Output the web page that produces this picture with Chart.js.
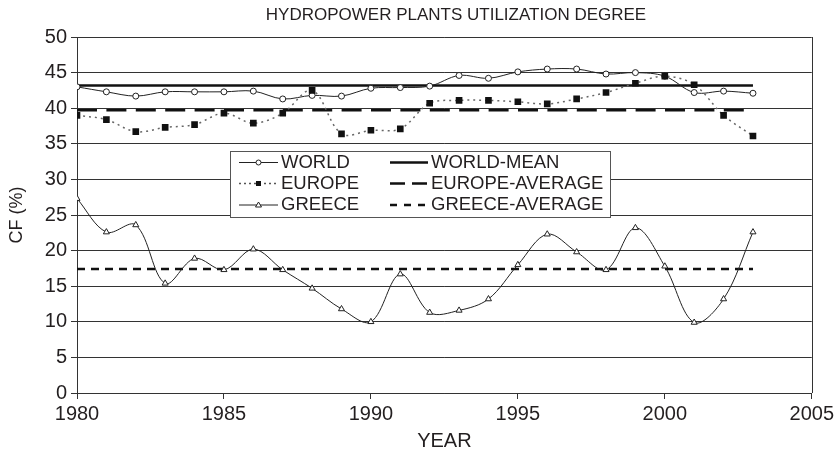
<!DOCTYPE html>
<html>
<head>
<meta charset="utf-8">
<script src="https://cdn.jsdelivr.net/npm/chart.js@4.4.1/dist/chart.umd.min.js"></script>
<style>
html, body { margin: 0; padding: 0; background: #fff; }
</style>
</head>
<body>
<canvas id="cfChart" width="837" height="451"></canvas>
<script>
// data
const years = [1980, 1981, 1982, 1983, 1984, 1985, 1986, 1987, 1988, 1989, 1990, 1991,
               1992, 1993, 1994, 1995, 1996, 1997, 1998, 1999, 2000, 2001, 2002, 2003];
const world = [43.0, 42.3, 41.7, 42.3, 42.3, 42.3, 42.4, 41.3, 41.8, 41.7, 42.8, 42.9,
               43.1, 44.6, 44.2, 45.1, 45.5, 45.5, 44.8, 45.0, 44.5, 42.2, 42.4, 42.1];
const europe = [39.0, 38.4, 36.7, 37.3, 37.7, 39.3, 37.9, 39.3, 42.5, 36.4, 36.9, 37.1,
                40.7, 41.1, 41.1, 40.9, 40.6, 41.3, 42.2, 43.5, 44.5, 43.3, 39.0, 36.1];
const greece = [27.3, 22.6, 23.6, 15.4, 18.9, 17.3, 20.2, 17.3, 14.7, 11.8, 10.0, 16.7,
                11.3, 11.6, 13.2, 18.0, 22.3, 19.8, 17.3, 23.2, 17.8, 9.9, 13.2, 22.6];
const worldMean = 43.2;
const europeAverage = 39.7;
const greeceAverage = 17.4;
const xTicks = [1980, 1985, 1990, 1995, 2000, 2005];
const yTicks = [0, 5, 10, 15, 20, 25, 30, 35, 40, 45, 50];

const FONT = "'Liberation Sans', Arial, Helvetica, sans-serif";
const INK = '#231f20';

function pts(values) {
    return values.map((v, i) => ({ x: years[i], y: v }));
}
function flat(value) {
    return [{ x: years[0], y: value }, { x: years[years.length - 1], y: value }];
}

// titles, right frame line and the boxed legend
const extras = {
    id: 'extras',
    afterDraw(chart) {
        const ctx = chart.ctx;
        const area = chart.chartArea;
        ctx.save();

        ctx.strokeStyle = '#333';
        ctx.lineWidth = 1;
        ctx.beginPath();
        ctx.moveTo(Math.round(area.right) + 0.5, area.top);
        ctx.lineTo(Math.round(area.right) + 0.5, area.bottom);
        ctx.stroke();

        ctx.fillStyle = INK;
        ctx.font = '17px ' + FONT;
        ctx.textAlign = 'center';
        ctx.textBaseline = 'middle';
        ctx.fillText('HYDROPOWER PLANTS UTILIZATION DEGREE', 456, 15);

        // legend box
        const bx = 230, by = 151, bw = 380, bh = 66;
        ctx.fillStyle = '#fff';
        ctx.fillRect(bx, by, bw, bh);
        ctx.strokeStyle = '#555';
        ctx.strokeRect(bx + 0.5, by + 0.5, bw, bh);

        const rows = [162.5, 183.5, 205];
        const c1 = [239, 278, 281];
        const c2 = [390, 428, 431];
        ctx.font = '18.5px ' + FONT;
        ctx.textAlign = 'left';
        ctx.fillStyle = INK;
        ctx.fillText('WORLD', c1[2], rows[0]);
        ctx.fillText('EUROPE', c1[2], rows[1]);
        ctx.fillText('GREECE', c1[2], rows[2]);
        ctx.fillText('WORLD-MEAN', c2[2], rows[0]);
        ctx.fillText('EUROPE-AVERAGE', c2[2], rows[1]);
        ctx.fillText('GREECE-AVERAGE', c2[2], rows[2]);

        function sample(c, y, width, dash, color) {
            ctx.beginPath();
            ctx.setLineDash(dash);
            ctx.lineWidth = width;
            ctx.strokeStyle = color;
            ctx.moveTo(c[0], y);
            ctx.lineTo(c[1], y);
            ctx.stroke();
            ctx.setLineDash([]);
        }
        const mid = (c1[0] + c1[1]) / 2;
        sample(c1, rows[0], 1, [], '#222');
        ctx.beginPath();
        ctx.fillStyle = '#fff';
        ctx.lineWidth = 1;
        ctx.strokeStyle = '#222';
        ctx.arc(mid, rows[0], 2.5, 0, Math.PI * 2);
        ctx.fill();
        ctx.stroke();

        sample(c1, rows[1], 1.3, [2, 3], '#555');
        ctx.fillStyle = '#111';
        ctx.fillRect(mid - 2.5, rows[1] - 2.5, 5, 5);

        sample(c1, rows[2], 1, [], '#222');
        ctx.beginPath();
        ctx.fillStyle = '#fff';
        ctx.moveTo(mid, rows[2] - 3);
        ctx.lineTo(mid + 3, rows[2] + 2);
        ctx.lineTo(mid - 3, rows[2] + 2);
        ctx.closePath();
        ctx.fill();
        ctx.stroke();

        sample(c2, rows[0], 2.5, [], '#111');
        sample(c2, rows[1], 2.5, [15, 7], '#111');
        sample(c2, rows[2], 2.5, [7, 7], '#111');

        ctx.restore();
    }
};

new Chart(document.getElementById('cfChart'), {
    type: 'line',
    data: {
        datasets: [
            {
                label: 'WORLD',
                data: pts(world),
                borderColor: '#222',
                borderWidth: 1,
                tension: 0.35,
                pointStyle: 'circle',
                pointRadius: 3,
                pointBackgroundColor: '#fff',
                pointBorderColor: '#222',
                pointBorderWidth: 1,
                order: 3
            },
            {
                label: 'EUROPE',
                data: pts(europe),
                borderColor: '#666',
                borderWidth: 1.5,
                borderDash: [2, 4],
                tension: 0.35,
                pointStyle: 'rect',
                pointRadius: 4.7,
                pointBackgroundColor: '#111',
                pointBorderColor: '#111',
                pointBorderWidth: 0,
                order: 2
            },
            {
                label: 'GREECE',
                data: pts(greece),
                borderColor: '#222',
                borderWidth: 1,
                tension: 0.35,
                pointStyle: 'triangle',
                pointRadius: 3.5,
                pointBackgroundColor: '#fff',
                pointBorderColor: '#222',
                pointBorderWidth: 1,
                order: 1
            },
            {
                label: 'WORLD-MEAN',
                data: flat(worldMean),
                borderColor: '#111',
                borderWidth: 2.5,
                pointRadius: 0,
                order: 4
            },
            {
                label: 'EUROPE-AVERAGE',
                data: flat(europeAverage),
                borderColor: '#111',
                borderWidth: 2.5,
                borderDash: [20, 9.4],
                pointRadius: 0,
                order: 5
            },
            {
                label: 'GREECE-AVERAGE',
                data: flat(greeceAverage),
                borderColor: '#111',
                borderWidth: 2.5,
                borderDash: [8, 6],
                pointRadius: 0,
                order: 6
            }
        ]
    },
    options: {
        responsive: false,
        animation: false,
        devicePixelRatio: 1,
        layout: { padding: { top: 37, right: 25, bottom: 0, left: 0 } },
        plugins: {
            legend: { display: false },
            tooltip: { enabled: false }
        },
        scales: {
            x: {
                type: 'linear',
                min: xTicks[0],
                max: xTicks[xTicks.length - 1],
                afterBuildTicks: s => { s.ticks = xTicks.map(v => ({ value: v })); },
                afterFit: s => { s.height = 58; },
                grid: { drawOnChartArea: false, drawTicks: true, tickLength: 6, color: '#333' },
                border: { display: true, color: '#333', width: 1 },
                ticks: {
                    color: INK,
                    font: { family: FONT, size: 20 },
                    padding: 3,
                    maxRotation: 0,
                    callback: v => String(v)
                },
                title: {
                    display: true,
                    text: 'YEAR',
                    color: INK,
                    font: { family: FONT, size: 20, lineHeight: 1 },
                    padding: { top: 0, bottom: 0 }
                }
            },
            y: {
                min: yTicks[0],
                max: yTicks[yTicks.length - 1],
                afterBuildTicks: s => { s.ticks = yTicks.map(v => ({ value: v })); },
                afterFit: s => { s.width = 77; },
                grid: { color: '#333', lineWidth: 1, drawTicks: true, tickLength: 6 },
                border: { display: true, color: '#333', width: 1 },
                ticks: {
                    color: INK,
                    font: { family: FONT, size: 20 },
                    padding: 4
                },
                title: {
                    display: true,
                    text: 'CF (%)',
                    color: INK,
                    font: { family: FONT, size: 18, lineHeight: 1 },
                    padding: { top: 8, bottom: 0 }
                }
            }
        }
    },
    plugins: [extras]
});
</script>
</body>
</html>
